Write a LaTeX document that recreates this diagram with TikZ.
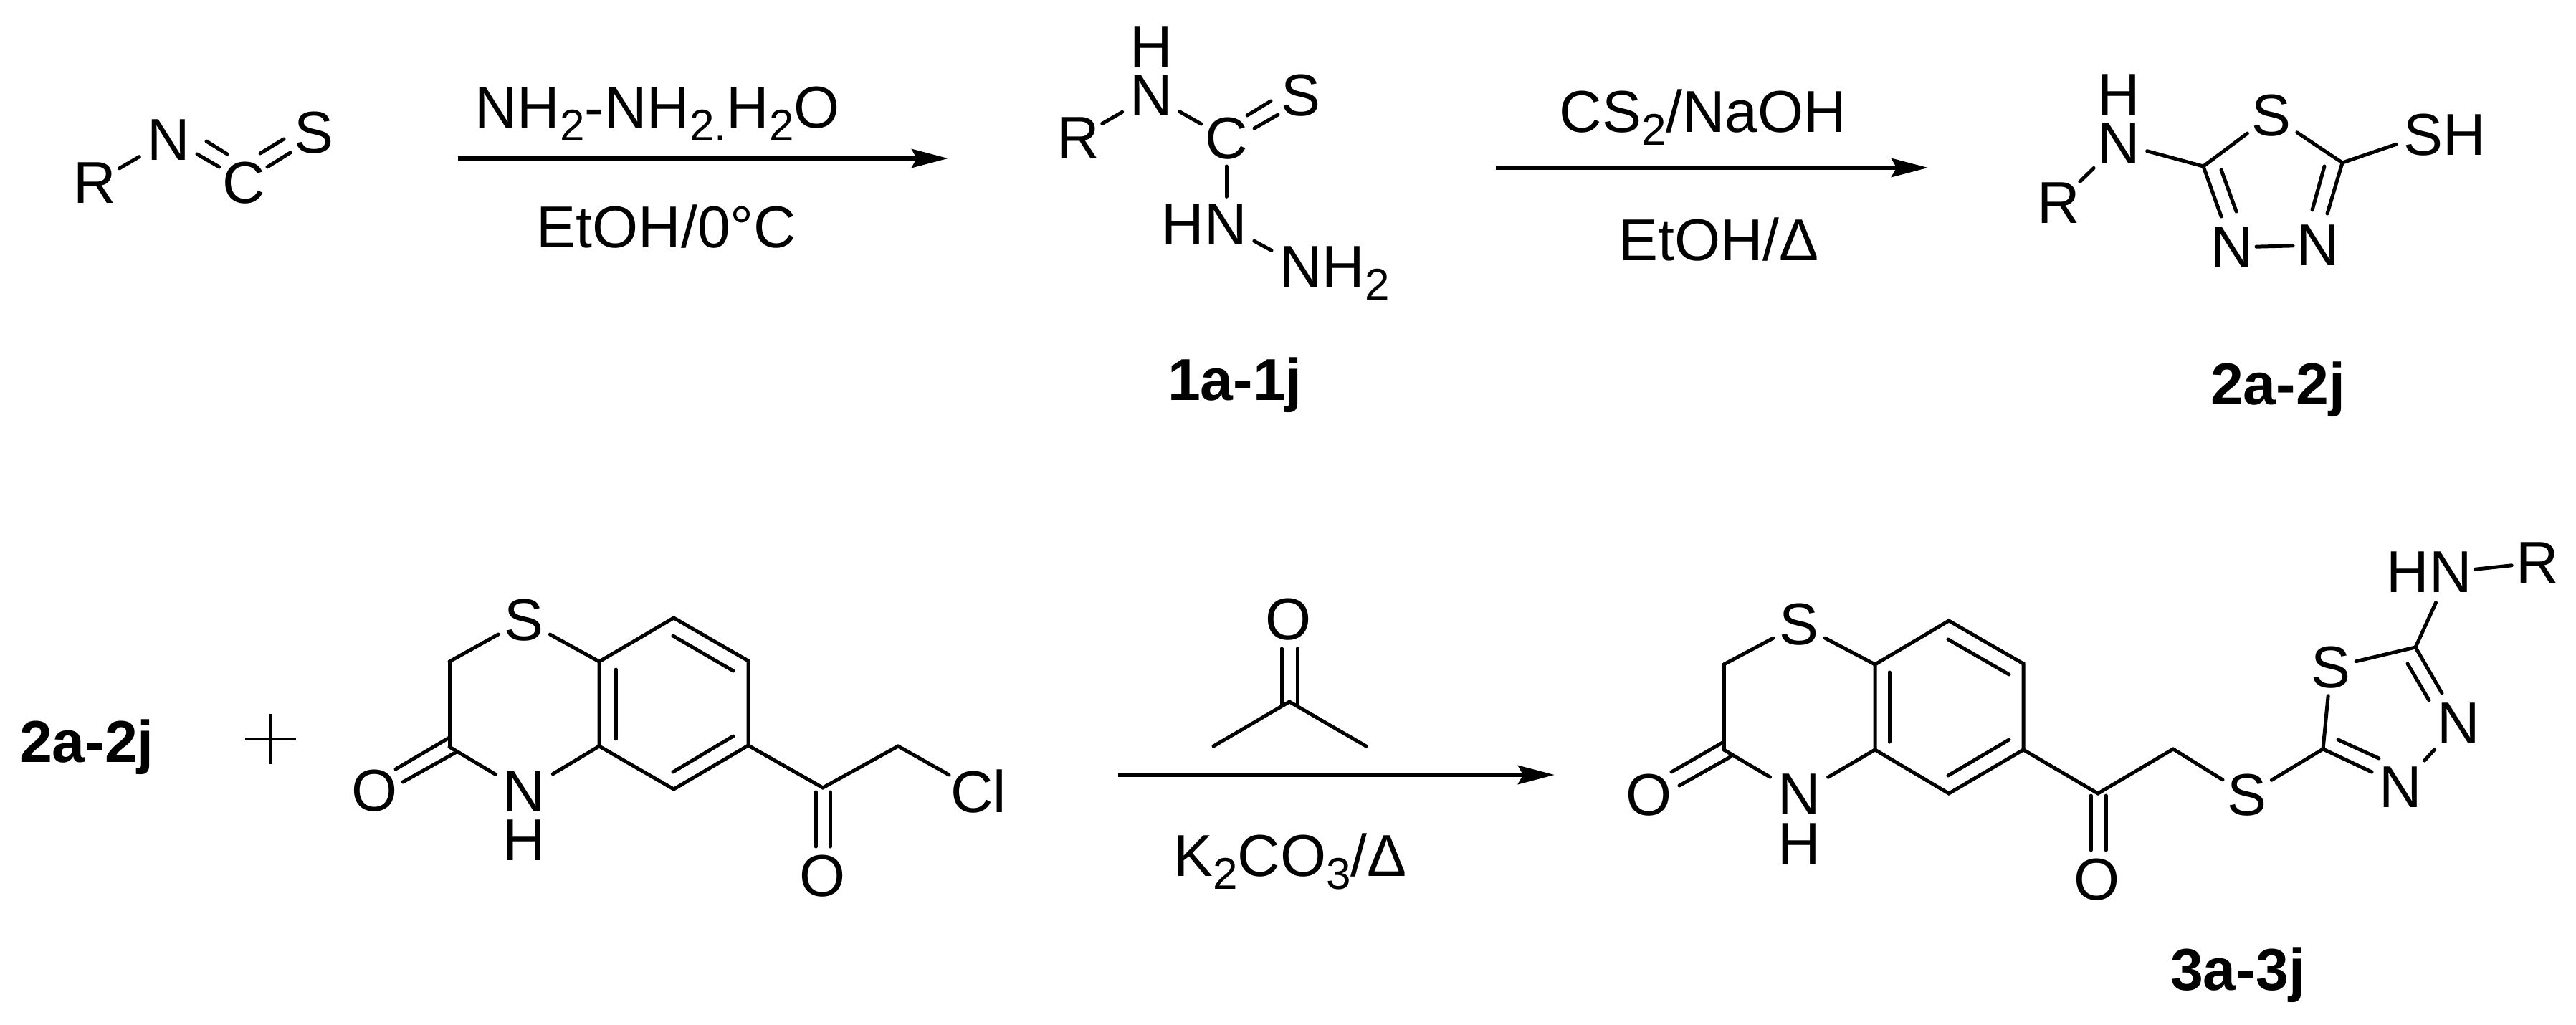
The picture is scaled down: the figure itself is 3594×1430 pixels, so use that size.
\documentclass[tikz,border=0pt]{standalone}
\usepackage{fontspec}
\setmainfont{Liberation Sans}
\usetikzlibrary{arrows.meta}
\newcommand\subs[1]{\raisebox{-9pt}{\fontsize{31}{31}\selectfont #1}}
\newcommand\lin[5]{\coordinate (#1a) at (#2,#3); \coordinate (#1b) at (#4,#5); \draw[bond] (#1a) -- (#1b);}
\tikzset{
  bond/.style={line width=2.5pt,line cap=round,line join=miter,black},
  trim/.style 2 args={shorten <=#1*0.5pt,shorten >=#2*0.5pt},
  atom/.style={inner sep=0pt,outer sep=0pt,font=\fontsize{41.2}{41.2}\selectfont},
  label/.style={atom,anchor=base},
  cmpd/.style={atom,anchor=base,font=\fontsize{41.2}{41.2}\selectfont\bfseries},
  rxn/.style={line width=3pt,-{Stealth[length=25.5pt,width=13pt,inset=3.5pt]}},
  plusbar/.style={line width=2.2pt}
}
\begin{document}
\begin{tikzpicture}[x=0.5pt,y=-0.5pt]
\useasboundingbox (0,0) rectangle (3594,1430);
% --- isothiocyanate
\node[atom] (r1) at (132,255) {R};
\node[atom] (n1) at (235,195) {N};
\node[atom] (c1) at (340,255) {C};
\node[atom] (s1) at (438,185) {S};
\draw[bond,trim={40}{47}] (r1.center) -- (n1.center);
\lin{dA}{275}{215}{306}{233}
\lin{dB}{288}{197}{317}{215}
\lin{dC}{373}{233}{405}{213}
\lin{dD}{363}{214}{396}{194}
% --- arrow 1
\node[label] (t1) at (917,178) {NH\subs{2}-NH\subs{2.}H\subs{2}O};
\node[label] (t2) at (930,345) {EtOH/0°C};
\coordinate (a1s) at (639,221);
\coordinate (a1e) at (1323,221);
\draw[rxn] (a1s) -- (a1e);
% --- thiosemicarbazide
\node[atom] (h2) at (1606,65) {H};
\node[atom] (n2) at (1606,133) {N};
\node[atom] (r2) at (1504,192) {R};
\node[atom] (c2) at (1711,193) {C};
\node[atom] (s2) at (1815,133) {S};
\node[label] (hn2) at (1680,341) {HN};
\node[atom,anchor=base west] (nh2) at (1785,400) {NH\subs{2}};
\coordinate (hn2N) at (1705,312);
\coordinate (nh2N) at (1814,371);
\draw[bond,trim={39}{46.5}] (r2.center) -- (n2.center);
\draw[bond,trim={45.6}{40.5}] (n2.center) -- (c2.center);
\lin{dE}{1750}{179}{1783}{160}
\lin{dF}{1740}{161}{1773}{141}
\draw[bond,trim={39}{10}] (c2.center) -- (hn2.north -| c2);
\draw[bond,trim={51}{45.5}] (hn2N) -- (nh2N);
\node[cmpd] (l1) at (1723,558) {1a-1j};
% --- arrow 2
\node[label] (t3) at (2376,184) {CS\subs{2}/NaOH};
\node[label] (t4) at (2398,363) {EtOH/Δ};
\coordinate (a2s) at (2087,234);
\coordinate (a2e) at (2690,234);
\draw[rxn] (a2s) -- (a2e);
% --- thiadiazole
\node[atom] (h3) at (2956,132) {H};
\node[atom] (n3) at (2956,200) {N};
\node[atom] (r3) at (2872,283) {R};
\coordinate (v1) at (3074,232);
\coordinate (v2) at (3268,227);
\node[atom] (s3) at (3169,161) {S};
\node[atom] (sh) at (3411,188) {SH};
\coordinate (shS) at (3382,188);
\node[atom] (n4) at (3114,345) {N};
\node[atom] (n5) at (3234,342) {N};
\draw[bond,trim={42}{49}] (r3.center) -- (n3.center);
\draw[bond,trim={41}{0}] (n3.center) -- (v1);
\draw[bond,trim={0}{42}] (v1) -- (s3.center);
\draw[bond,trim={43}{0}] (s3.center) -- (v2);
\draw[bond,trim={0}{41}] (v2) -- (shS);
\draw[bond,trim={34}{35}] (n4.center) -- (n5.center);
\lin{dG}{3074}{232}{3099}{302}
\lin{dH}{3099}{237}{3120}{295}
\lin{dI}{3268}{227}{3247}{298}
\lin{dJ}{3243}{232}{3226}{293}
\node[cmpd] (l2) at (3178,564) {2a-2j};
% --- lower row, reactants
\node[cmpd] (l3) at (121,1063) {2a-2j};
\node[inner sep=0pt] (pl) at (378,1031) {};
\draw[plusbar] (342,1031) -- (pl.center) -- (413,1031);
\draw[plusbar] (378,996) -- (pl.center) -- (378,1066);
% --- benzothiazinone
\coordinate (a1) at (627,923);
\coordinate (a2) at (627,1042);
\coordinate (a3) at (836,1041);
\coordinate (a4) at (836,923);
\coordinate (a5) at (940,862);
\coordinate (a6) at (1044,922);
\coordinate (a7) at (1044,1040);
\coordinate (a8) at (940,1101);
\coordinate (ac) at (1148,1099);
\coordinate (ch) at (1253,1041);
\node[atom] (sa) at (731,865) {S};
\node[atom] (na) at (731,1104) {N};
\node[atom] (ha) at (731,1172) {H};
\node[atom] (oa) at (523,1103) {O};
\node[atom] (ob) at (1148,1222) {O};
\node[atom] (cl) at (1365,1104) {Cl};
\draw[bond,trim={0}{41}] (a1) -- (sa.center);
\draw[bond,trim={41.6}{0}] (sa.center) -- (a4);
\draw[bond] (a1) -- (a2);
\draw[bond,trim={0}{46}] (a2) -- (na.center);
\draw[bond,trim={47}{0}] (na.center) -- (a3);
\draw[bond] (a4) -- (a5) -- (a6) -- (a7) -- (a8) -- (a3) -- cycle;
\draw[bond] (a7) -- (ac) -- (ch);
\draw[bond,trim={0}{47}] (ch) -- (cl.center);
\lin{dK}{627}{1029}{552}{1073}
\lin{dL}{637}{1049}{562}{1091}
\lin{dM}{859}{934}{859}{1031}
\lin{dN}{939}{887}{1023}{936}
\lin{dO}{939}{1077}{1023}{1027}
\lin{dP}{1138}{1105}{1138}{1181}
\lin{dQ}{1158}{1105}{1158}{1181}
% --- arrow 3 with acetone
\node[atom] (ok) at (1798,864) {O};
\coordinate (k) at (1799,979);
\coordinate (m1) at (1693,1041);
\coordinate (m2) at (1906,1041);
\draw[bond] (m1) -- (k) -- (m2);
\lin{dR}{1788}{905}{1788}{984}
\lin{dS}{1810}{905}{1810}{984}
\coordinate (a3s) at (1560,1081);
\coordinate (a3e) at (2169,1081);
\draw[rxn] (a3s) -- (a3e);
\node[label] (t5) at (1800,1222) {K\subs{2}CO\subs{3}/Δ};
% --- product
\coordinate (b1) at (2405,927);
\coordinate (b2) at (2405,1046);
\coordinate (b3) at (2616,1046);
\coordinate (b4) at (2616,927);
\coordinate (b5) at (2719,866);
\coordinate (b6) at (2823,926);
\coordinate (b7) at (2823,1046);
\coordinate (b8) at (2719,1107);
\coordinate (bc) at (2927,1107);
\coordinate (bh) at (3032,1045);
\coordinate (t1v) at (3241,1045);
\coordinate (t2v) at (3370,903);
\node[atom] (sb) at (2510,871) {S};
\node[atom] (nb) at (2510,1108) {N};
\node[atom] (hb) at (2510,1177) {H};
\node[atom] (oc) at (2301,1109) {O};
\node[atom] (od) at (2926,1227) {O};
\node[atom] (sl) at (3135,1109) {S};
\node[atom] (sr) at (3252,931) {S};
\node[atom] (hn) at (3389,798) {HN};
\coordinate (hnN) at (3418,798);
\node[atom] (rp) at (3540,785) {R};
\node[atom] (nr) at (3430,1009) {N};
\node[atom] (nl) at (3349,1098) {N};
\draw[bond,trim={0}{41}] (b1) -- (sb.center);
\draw[bond,trim={41}{0}] (sb.center) -- (b4);
\draw[bond] (b1) -- (b2);
\draw[bond,trim={0}{47}] (b2) -- (nb.center);
\draw[bond,trim={47}{0}] (nb.center) -- (b3);
\draw[bond] (b4) -- (b5) -- (b6) -- (b7) -- (b8) -- (b3) -- cycle;
\draw[bond] (b7) -- (bc) -- (bh);
\draw[bond,trim={0}{40}] (bh) -- (sl.center);
\draw[bond,trim={40}{0}] (sl.center) -- (t1v);
\draw[bond,trim={0}{40}] (t1v) -- (sr.center);
\draw[bond,trim={36}{0}] (sr.center) -- (t2v);
\draw[bond,trim={0}{47}] (t2v) -- (hnN);
\draw[bond,trim={35.5}{36}] (hnN) -- (rp.center);
\draw[bond,trim={49.5}{50}] (nr.center) -- (nl.center);
\lin{dT}{2405}{1035}{2332}{1077}
\lin{dU}{2414}{1056}{2343}{1096}
\lin{dV}{2636}{938}{2636}{1035}
\lin{dW}{2718}{892}{2803}{941}
\lin{dX}{2718}{1082}{2803}{1032}
\lin{dY}{2917}{1110}{2917}{1186}
\lin{dZ}{2938}{1110}{2938}{1186}
\lin{eA}{3370}{903}{3407}{967}
\lin{eB}{3359}{926}{3389}{977}
\lin{eC}{3241}{1045}{3309}{1077}
\lin{eD}{3262}{1032}{3319}{1058}
\node[cmpd] (l4) at (3122,1381) {3a-3j};
\end{tikzpicture}
\end{document}
